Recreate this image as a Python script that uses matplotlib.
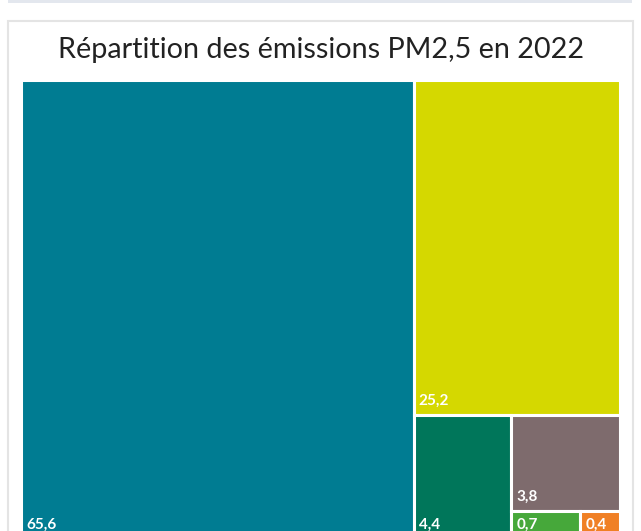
import matplotlib.pyplot as plt
from matplotlib.patches import Rectangle

# valeurs du treemap (ordre de découpage)
labels = ['65,6', '25,2', '4,4', '3,8', '0,7', '0,4']
values = [65.6, 25.2, 4.4, 3.8, 0.7, 0.4]
colors = ['#007c92', '#d5d800', '#00765a', '#7e6b6d', '#46a83a', '#f08025']

plt.rcParams['font.family'] = ['Lato', 'DejaVu Sans']


def slice_dice(vals, x, y, w, h, vertical=True):
    # découpage alterné : une case, puis le reste dans l'autre sens
    if len(vals) == 1:
        return [(x, y, w, h)]
    total = sum(vals)
    part = vals[0] / total
    if vertical:
        w1 = w * part
        return [(x, y, w1, h)] + slice_dice(vals[1:], x + w1, y, w - w1, h, False)
    h1 = h * part
    return [(x, y, w, h1)] + slice_dice(vals[1:], x, y + h1, w, h - h1, True)


W, H = 641, 531
fig = plt.figure(figsize=(W / 100, H / 100), dpi=100)

# fine bande en haut + cadre de la carte (derrière le treemap)
fig.add_artist(Rectangle((8 / W, 1 - 3 / H), 624 / W, 3 / H, transform=fig.transFigure,
                         facecolor='#e3e7ee', edgecolor='none', zorder=-5))
fig.add_artist(Rectangle((7.5 / W, -0.05), 625 / W, 1 - 21 / H + 0.05, transform=fig.transFigure,
                         facecolor='white', edgecolor='#e4e4e4', linewidth=1.5, zorder=-5))

fig.text(321 / W, 1 - 50 / H, 'Répartition des émissions PM2,5 en 2022',
         ha='center', va='center', fontsize=20.7, color='#222222')

# zone du treemap (dépasse un peu en bas de l'image)
aw, ah = 599, 459
ax = fig.add_axes([21 / W, 1 - (80 + ah) / H, aw / W, ah / H])
ax.set_xlim(0, aw)
ax.set_ylim(ah, 0)
ax.axis('off')

rects = slice_dice(values, 0, 0, aw, ah)
for (x, y, w, h), c, lab in zip(rects, colors, labels):
    ax.add_patch(Rectangle((x, y), w, h, facecolor=c, edgecolor='white', linewidth=2.2))
    ax.text(x + 5, y + h - 10, lab, color='white', fontsize=11, fontweight='bold',
            ha='left', va='baseline', clip_on=False)

plt.savefig('out.png', dpi=100)
